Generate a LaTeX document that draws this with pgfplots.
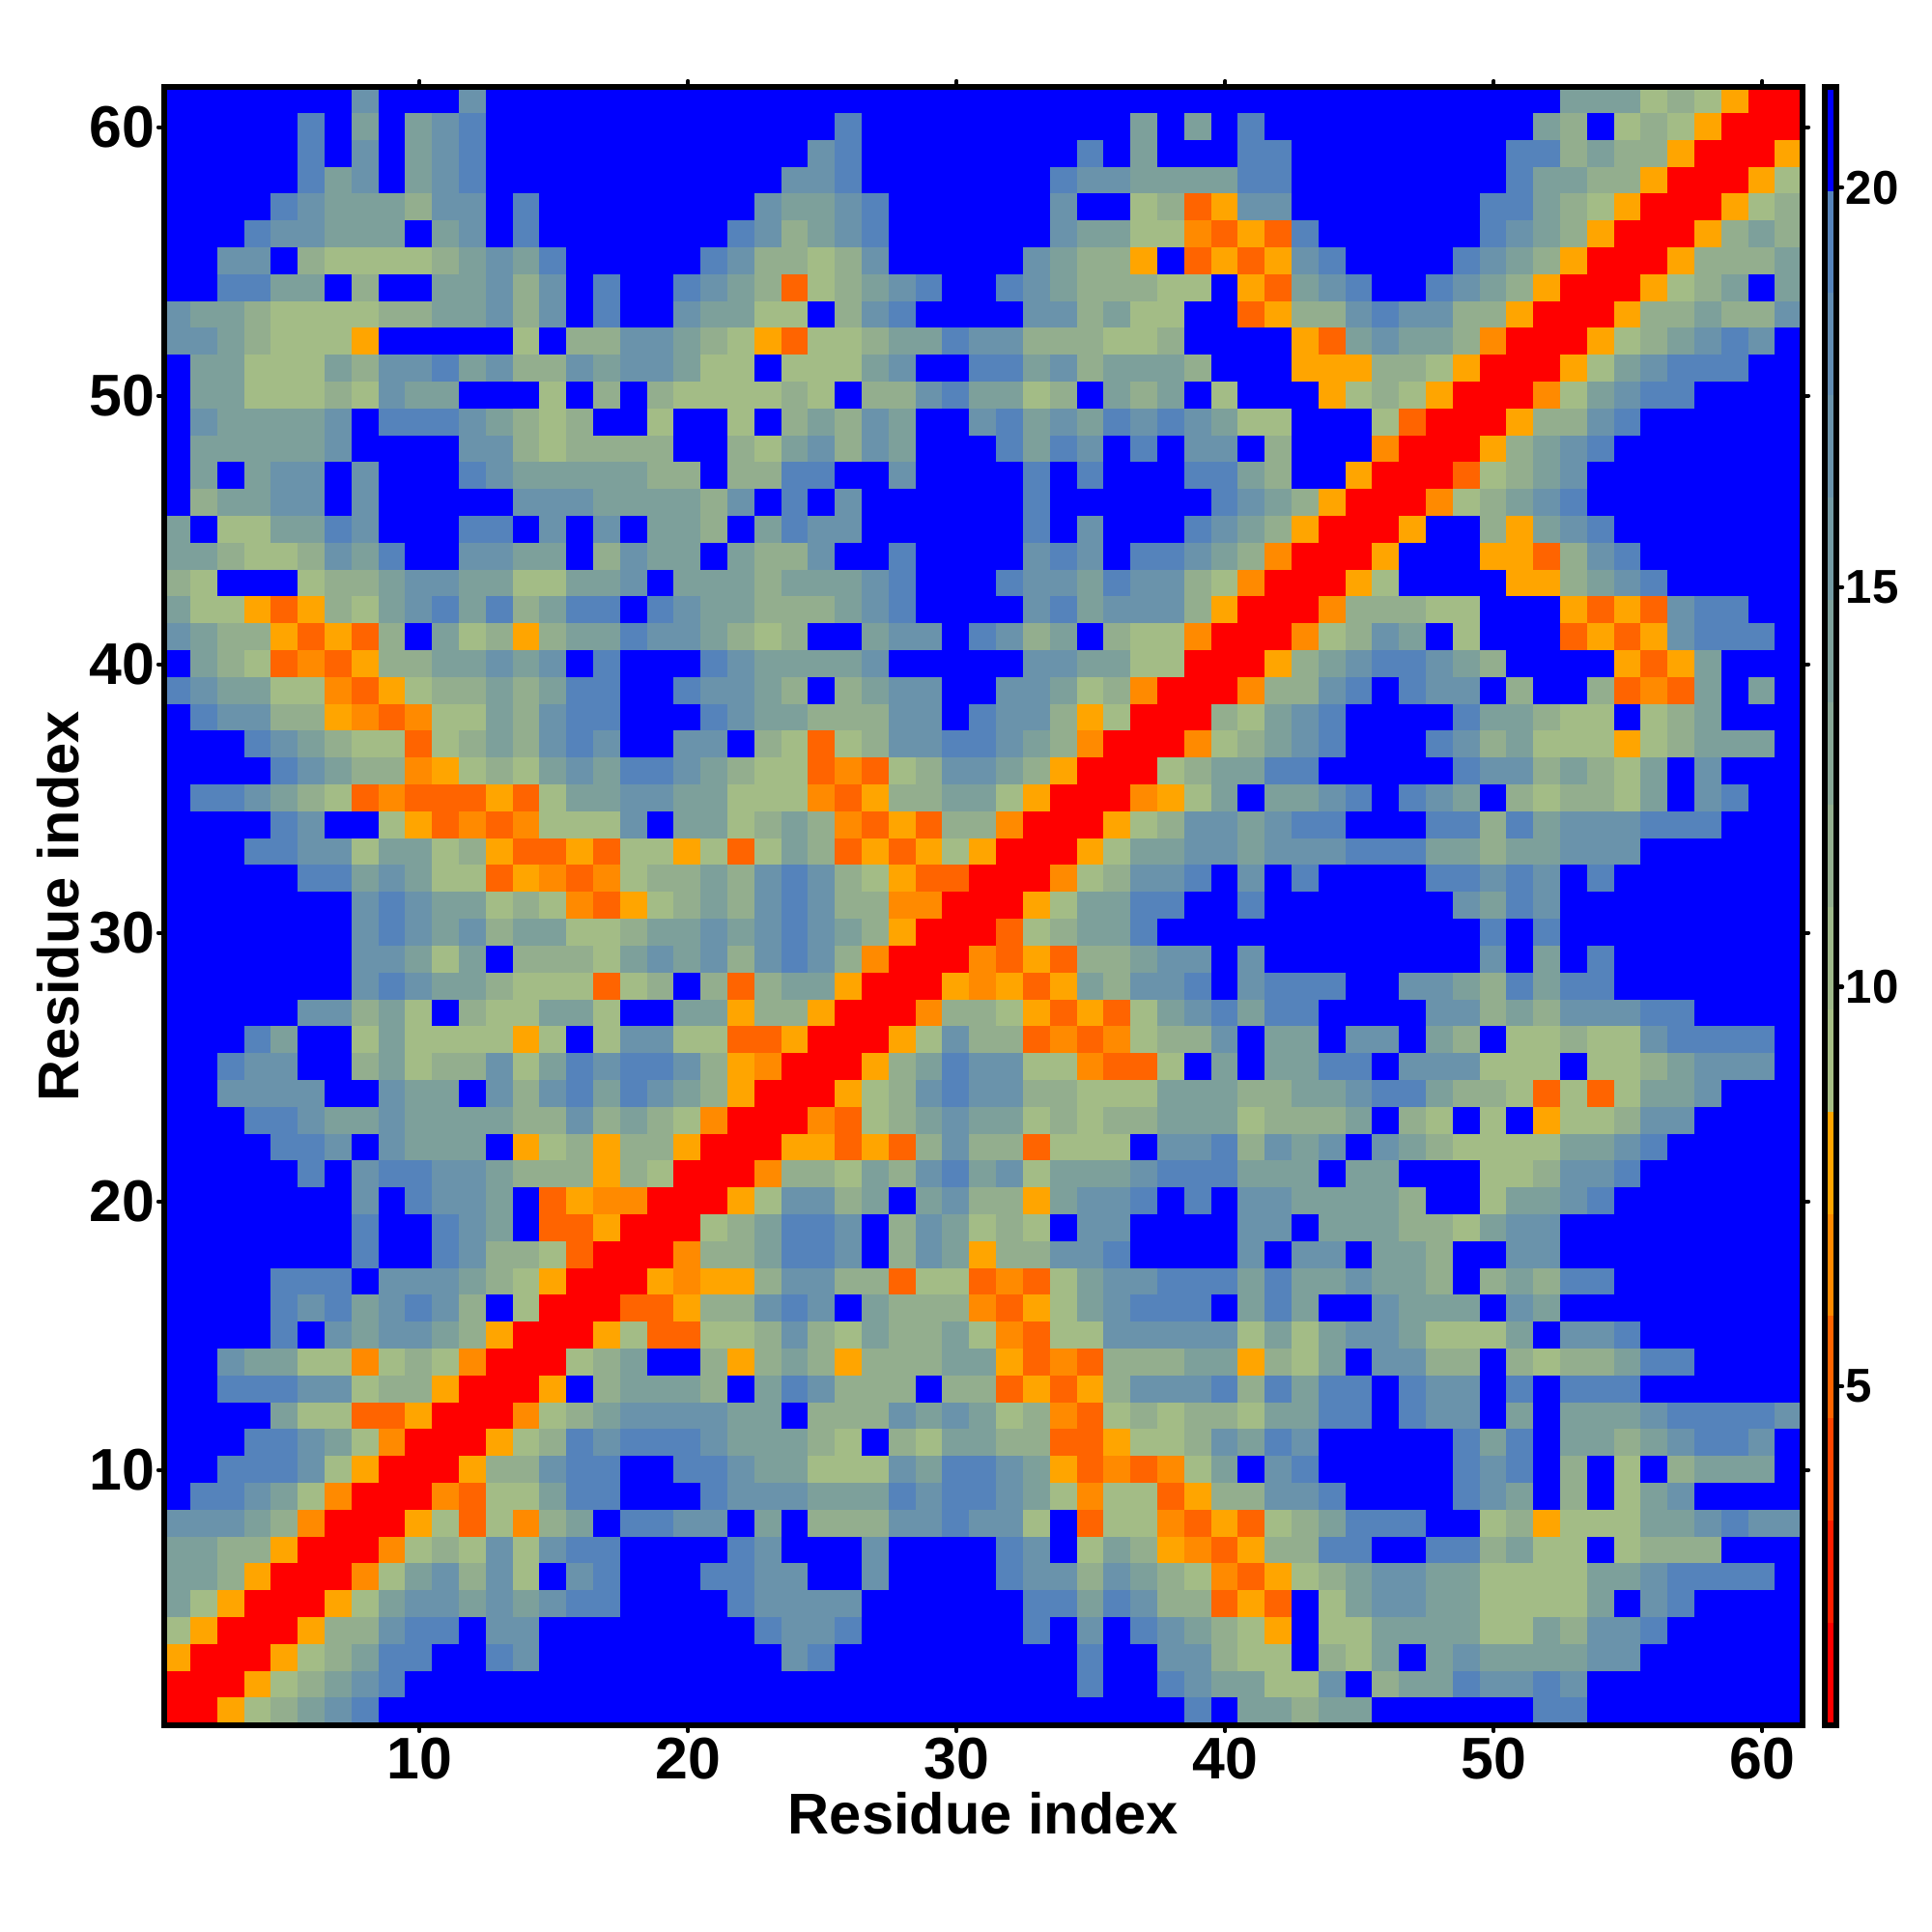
\documentclass[border=0pt]{standalone}
\usepackage{fontspec}
\setmainfont{Liberation Sans}
\usepackage{pgfplots}
\pgfplotsset{compat=1.18}
\newcount\hmx \newcount\hmy
\gdef\hmlist{}
\hmy=61
\def\hmadd#1{\advance\hmx by 1 \xdef\hmlist{\hmlist(\the\hmx,\the\hmy)[#1]}}
\def\hmparse#1{\ifx#1\relax\else\ifnum\hmx<61 \hmadd{#1}\fi\expandafter\hmparse\fi}
\def\hmrow#1{\hmx=0 \hmparse#1\relax\loop\ifnum\hmx<61 \hmadd{9}\repeat\advance\hmy by -1 }
% rows from residue 61 (top) down to residue 1; one digit per cell:
% 0 red ... 3 orange, 4 light green ... 8 steel blue, 9 blue (20 and over)
\hmrow{9999999799 9799999999 9999999999 9999999999 9999999999 99666454300}
\hmrow{9999989696 7899999999 9999989999 9999996969 8999999999 96594543000}
\hmrow{9999989796 7899999999 9999789999 9999896999 8899999999 88565530003}
\hmrow{9999986796 7899999999 9997789999 9998776666 8899999999 86655300034}
\hmrow{9999876665 7798999999 9976678999 9997994513 7799999998 86543000345}
\hmrow{9998776669 6798999999 9875678999 9997664421 3189999998 76530003565}
\hmrow{9977954444 5676899999 8755457999 9976553913 1378999987 65300035556}
\hmrow{9988669599 6675798998 7651456789 9876555449 3167899876 53000345696}
\hmrow{7665444455 6675798997 6644957899 9977564499 1355787755 30003556557}
\hmrow{7765444399 9994955776 5431445668 7755544599 9931676652 00034567879}
\hmrow{9664446577 8675576776 4494446799 8867566659 9933355430 00346788899}
\hmrow{9664445476 6999495954 4445495578 6645965694 9993454300 02467889999}
\hmrow{9766667988 8765459949 9495657699 7867687876 4499941000 35578999999}
\hmrow{9666667999 9775455559 9546757699 9868798977 9599920003 56789999999}
\hmrow{9696779799 9876666655 9558899799 9989899988 6599300014 56799999999}
\hmrow{9566779799 9997776666 5798979999 9989999998 7653000245 67899999999}
\hmrow{6944668799 9889797966 5968779999 9989799987 6530003995 36789999999}
\hmrow{6654457689 9776695766 9655799899 9978798876 5200039993 31578999999}
\hmrow{5499945567 7664466796 6656667899 9877687754 2000349999 33567899999}
\hmrow{6443135467 8685688987 6655567899 9978677753 0002555449 99313178899}
\hmrow{7655313159 6453566877 6545996779 8756954420 0024576949 99131378889}
\hmrow{9654121355 6676798999 8766667999 9977664400 0356788765 99993136999}
\hmrow{8766442134 5565688998 7765956779 9776452000 2557898779 59951216969}
\hmrow{9877553212 4465788999 8766555779 8775340005 4678999986 65449456999}
\hmrow{9998765441 4565787997 7954145778 8765200024 5678999875 64443456669}
\hmrow{9999876552 3454676887 6544121457 7653000456 6889999987 75654697999}
\hmrow{9887654121 1131466776 6444213556 6430002346 9667898769 54554697899}
\hmrow{9999879943 1212444796 6456521315 5200034577 6788999885 86777888999}
\hmrow{9998877466 4531131443 4146513134 3000346677 6777888665 66777999999}
\hmrow{9999988676 4413212455 6578754311 0002457789 7989999887 87989999999}
\hmrow{9999999787 6645421345 6578755220 0034668899 8999999976 87999999999}
\hmrow{9999999787 6756644566 7678765300 0145668999 9999999998 98999999999}
\hmrow{9999999776 4695554676 7578752000 2131556779 7999999997 96989999999}
\hmrow{9999999787 6654441459 5156630003 2313657789 7888997765 86889999999}
\hmrow{9999977564 9544664996 6355300025 5431314678 6889999775 65777889999}
\hmrow{9998699464 4443494774 4113000347 5512124557 9669779659 44544788889}
\hmrow{9987799564 5574687887 5320003568 7744211496 9668897774 44944567779}
\hmrow{9977779976 6975786876 5300034578 7755444666 5566788655 41414667999}
\hmrow{9998876676 6665575654 2000214567 6645455666 4555695494 93445779999}
\hmrow{9999887976 6693453553 0003313157 5514449778 5767976544 44667899999}
\hmrow{9999989788 7765553540 0025546578 6746667888 6669669994 45778999999}
\hmrow{9999999798 7769132200 0347756967 5536778989 7766665994 66789999999}
\hmrow{9999999899 8769113000 4568879576 4549779999 7796665546 77999999999}
\hmrow{9999999899 8755410002 5568879576 3557789999 7977966599 77999999999}
\hmrow{9999888977 7654300032 3357755144 1214677888 6866766595 65889999999}
\hmrow{9999878678 7594000113 5578796555 2134678889 6869976669 76999999999}
\hmrow{9999897677 6530003411 4457546556 4214477777 4646776444 69778999999}
\hmrow{9976644245 4200045699 5356535556 6312155566 3546977559 54556889999}
\hmrow{9988877455 3000395666 5968755595 5131357778 5868898779 89888999999}
\hmrow{9999644113 0002456777 7669555767 6452145455 4668898779 69666788887}
\hmrow{9998876420 0034587888 7666549546 6551134457 6879999986 89665678879}
\hmrow{9988874300 0355788998 8766444768 8763121246 9789999987 89594956669}
\hmrow{9887642000 2144688999 8777666878 8764244135 5778999987 69594679999}
\hmrow{7776520003 4142569887 7969555778 7749144213 1456888994 53444667877}
\hmrow{6655300024 5474788999 9879997999 9879465321 3558899885 64494555999}
\hmrow{6653000246 7574978999 8877997999 9877576542 1345677664 44466788889}
\hmrow{6430003467 7676788999 9877779999 9988687551 3194677664 44469789999}
\hmrow{4300035578 8977999999 9987789999 9989798765 4394466664 46577899999}
\hmrow{3000345688 9987999999 9997899999 9999899775 4495469676 66677999999}
\hmrow{0003456789 9999999999 9999999999 9999899876 6447956687 78799999999}
\hmrow{0034567899 9999999999 9999999999 9999999989 6656699999 98899999999}
\pgfplotsset{
  colormap={contact}{rgb255=(255,0,0) rgb255=(255,100,0) rgb255=(255,138,0) rgb255=(255,165,0)
    rgb255=(163,188,134) rgb255=(147,174,142) rgb255=(125,160,155) rgb255=(106,147,171)
    rgb255=(85,131,187) rgb255=(0,0,255)},
}
\begin{document}
\begin{tikzpicture}[x=1pt,y=1pt]
\useasboundingbox (0,0) rectangle (500,500);
\edef\hmplot{\noexpand\addplot[matrix plot*, mesh/cols=61, point meta=explicit] coordinates {\hmlist};}
\begin{axis}[
  name=main, at={(42.5pt,53.5pt)}, anchor=south west,
  scale only axis, width=424pt, height=424pt,
  xmin=0.5, xmax=61.5, ymin=0.5, ymax=61.5,
  point meta min=0, point meta max=9,
  axis on top, axis line style={line width=1.5pt},
  xtick={10,20,30,40,50,60}, ytick={10,20,30,40,50,60},
  tick align=outside, tick pos=both, xticklabel pos=bottom, yticklabel pos=left,
  major tick length=1.5pt,
  tick style={line width=1.1pt, line cap=round, black},
  tick label style={font=\fontsize{15.2}{18}\selectfont\bfseries, /pgf/number format/assume math mode=true},
  xticklabel style={yshift=1.7pt}, yticklabel style={xshift=2.5pt},
  xlabel={Residue index}, ylabel={Residue index},
  label style={font=\fontsize{14.9}{18}\selectfont\bfseries},
  xlabel style={at={(axis description cs:0.5,-0.0538)}, anchor=center},
  ylabel style={at={(axis description cs:-0.0649,0.5)}, anchor=center, rotate=0},
]
\hmplot
\end{axis}
\begin{axis}[
  at={(472.25pt,53.5pt)}, anchor=south west,
  scale only axis, width=3pt, height=424pt,
  xmin=0, xmax=1, ymin=0.76, ymax=21.26,
  axis on top, axis line style={line width=1.4pt},
  xtick=\empty, ytick={5,10,15,20},
  tick align=outside, tick pos=right, yticklabel pos=right,
  major tick length=1.5pt,
  tick style={line width=1.1pt, line cap=round, black},
  tick label style={font=\fontsize{12.3}{15}\selectfont\bfseries, /pgf/number format/assume math mode=true},
  yticklabel style={xshift=-2.6pt},
]
\addplot[fill={rgb,255:red,255;green,0;blue,0},draw=none] coordinates {(0,0.76)(1,0.76)(1,2.04)(0,2.04)} --cycle;
\addplot[fill={rgb,255:red,255;green,30;blue,0},draw=none] coordinates {(0,2.04)(1,2.04)(1,3.32)(0,3.32)} --cycle;
\addplot[fill={rgb,255:red,255;green,69;blue,0},draw=none] coordinates {(0,3.32)(1,3.32)(1,4.60)(0,4.60)} --cycle;
\addplot[fill={rgb,255:red,255;green,100;blue,0},draw=none] coordinates {(0,4.60)(1,4.60)(1,5.88)(0,5.88)} --cycle;
\addplot[fill={rgb,255:red,255;green,138;blue,0},draw=none] coordinates {(0,5.88)(1,5.88)(1,7.16)(0,7.16)} --cycle;
\addplot[fill={rgb,255:red,255;green,165;blue,0},draw=none] coordinates {(0,7.16)(1,7.16)(1,8.44)(0,8.44)} --cycle;
\addplot[fill={rgb,255:red,166;green,190;blue,133},draw=none] coordinates {(0,8.44)(1,8.44)(1,9.72)(0,9.72)} --cycle;
\addplot[fill={rgb,255:red,158;green,184;blue,137},draw=none] coordinates {(0,9.72)(1,9.72)(1,11.00)(0,11.00)} --cycle;
\addplot[fill={rgb,255:red,147;green,174;blue,142},draw=none] coordinates {(0,11.00)(1,11.00)(1,12.28)(0,12.28)} --cycle;
\addplot[fill={rgb,255:red,135;green,167;blue,150},draw=none] coordinates {(0,12.28)(1,12.28)(1,13.56)(0,13.56)} --cycle;
\addplot[fill={rgb,255:red,125;green,160;blue,155},draw=none] coordinates {(0,13.56)(1,13.56)(1,14.84)(0,14.84)} --cycle;
\addplot[fill={rgb,255:red,115;green,154;blue,163},draw=none] coordinates {(0,14.84)(1,14.84)(1,16.12)(0,16.12)} --cycle;
\addplot[fill={rgb,255:red,106;green,147;blue,171},draw=none] coordinates {(0,16.12)(1,16.12)(1,17.40)(0,17.40)} --cycle;
\addplot[fill={rgb,255:red,97;green,140;blue,178},draw=none] coordinates {(0,17.40)(1,17.40)(1,18.68)(0,18.68)} --cycle;
\addplot[fill={rgb,255:red,85;green,131;blue,187},draw=none] coordinates {(0,18.68)(1,18.68)(1,19.96)(0,19.96)} --cycle;
\addplot[fill={rgb,255:red,0;green,0;blue,255},draw=none] coordinates {(0,19.96)(1,19.96)(1,21.26)(0,21.26)} --cycle;
\end{axis}
\end{tikzpicture}
\end{document}
